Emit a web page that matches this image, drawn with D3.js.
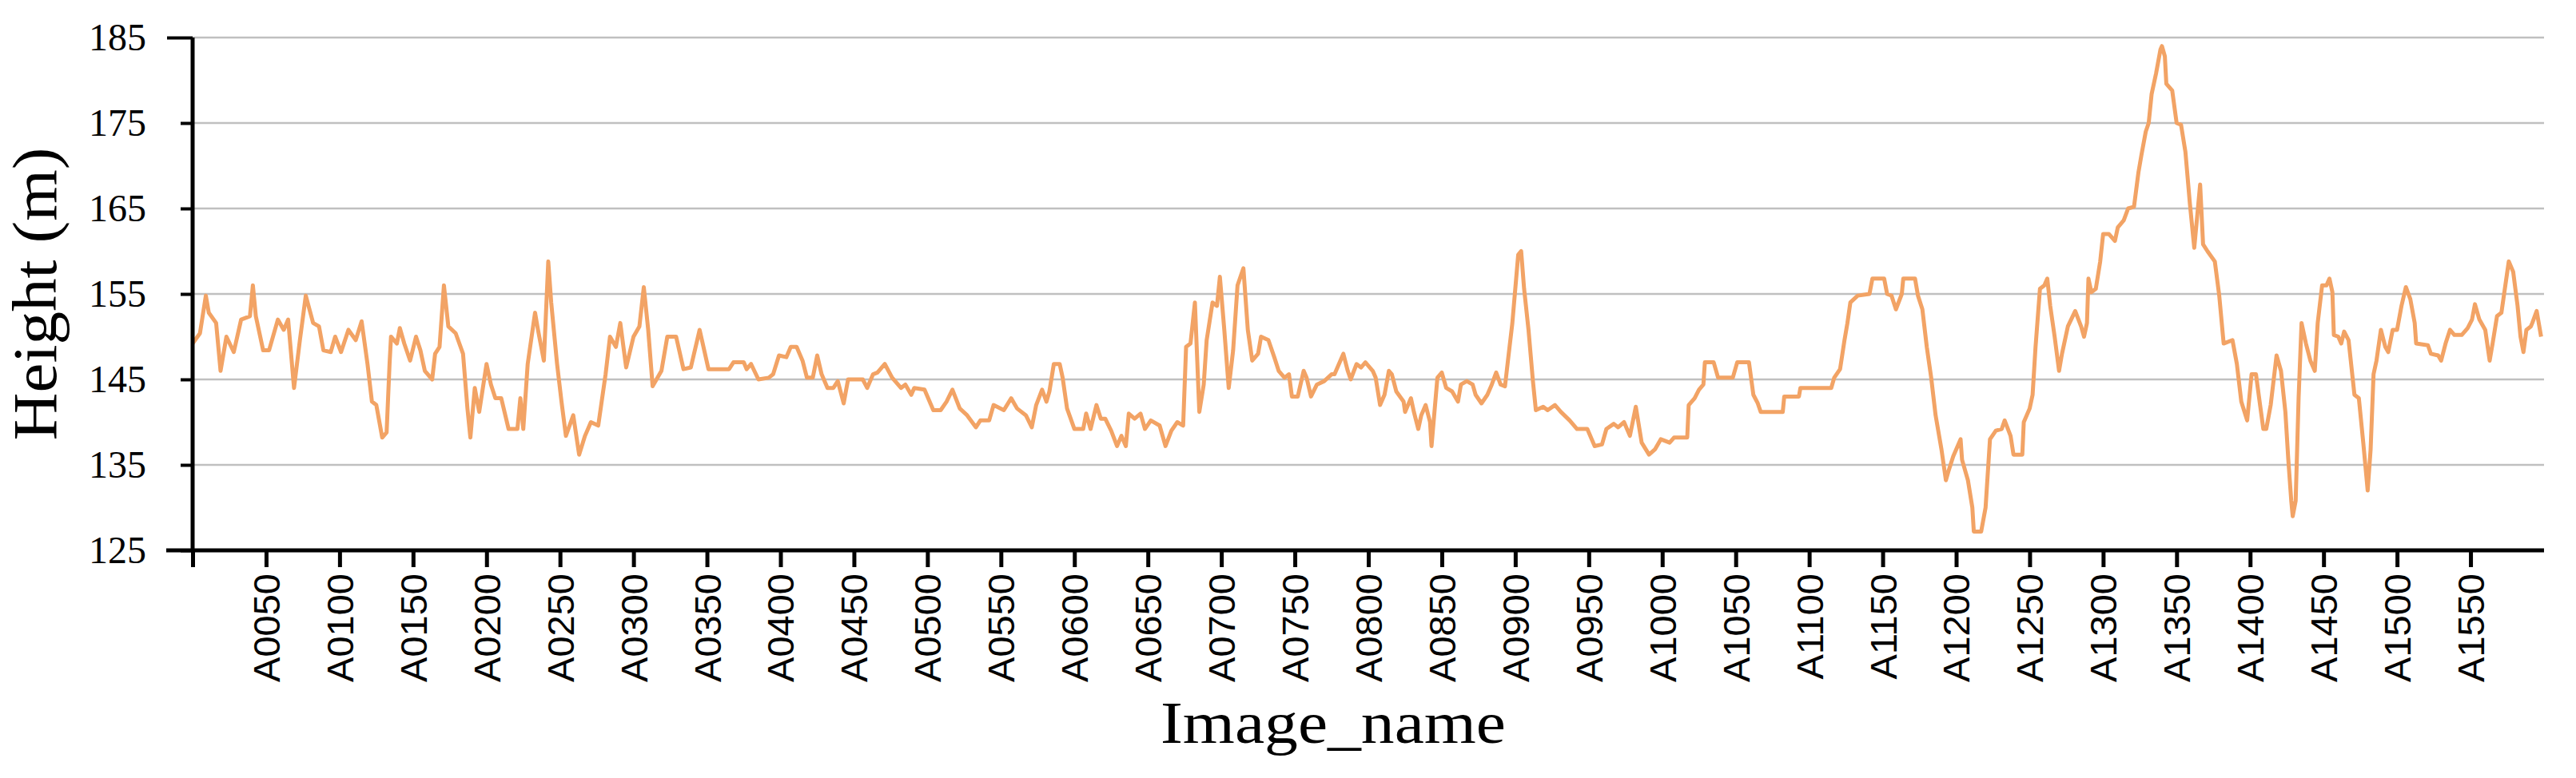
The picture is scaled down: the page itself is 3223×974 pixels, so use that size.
<!DOCTYPE html>
<meta charset="utf-8">
<title>Height (m) by Image_name</title>
<style>

body {
  margin: 0;
  background: #fff;
  overflow: hidden;
}

svg {
  display: block;
}

.y-axis text {
  font-family: 'Liberation Serif', 'Times New Roman', serif;
  font-size: 48px;
  fill: #000;
}

.x-axis text {
  font-family: 'Liberation Sans', Arial, sans-serif;
  font-size: 47px;
  fill: #000;
}

.title {
  font-family: 'Liberation Serif', 'Times New Roman', serif;
  fill: #000;
}

.grid line {
  stroke: #c0c0c0;
  stroke-width: 2.5px;
}

</style>
<svg width="3223" height="974"></svg>
<script src="https://d3js.org/d3.v7.min.js"></script>
<script>

var imageIndex = [
  0, 5, 9, 11, 16, 19, 23, 28, 33, 39, 41, 43, 48, 52, 58, 62, 65, 69, 73, 77,
  82, 86, 89, 94, 97, 101, 106, 111, 115, 119, 122, 125, 129, 132, 134, 135, 139, 141, 144, 148,
  152, 155, 158, 163, 165, 168, 171, 174, 179, 184, 187, 189, 192, 195,
  200, 203, 206, 210, 215, 221, 223, 225, 228, 233, 235, 239, 242, 244, 248, 251,
  254, 259, 263, 267, 271, 276, 281, 284, 288, 291, 295, 300, 304, 307, 310, 313,
  319, 323, 329, 334, 339, 345, 351, 365, 368, 375, 377, 380, 385, 392, 395, 399,
  404, 407, 411, 415, 418, 422, 425, 428, 432, 436, 439, 443, 446, 451, 456, 459,
  463, 466, 471, 476, 482, 485, 489, 491, 498, 504, 509, 513, 517, 522, 527, 533,
  536, 542, 545, 552, 557, 561, 567, 571, 574, 578, 581, 583, 586, 590, 592, 595, 600,
  603, 606, 608, 611, 615, 618, 621, 625, 629, 632, 635, 637, 641, 645, 648, 652,
  658, 662, 666, 670, 674, 676, 679, 682, 685, 688, 690, 694, 697, 699, 702, 705,
  708, 711, 715, 718, 721, 725, 727, 732, 736, 739, 743, 746, 748, 752, 756, 758,
  761, 765, 770, 775, 777, 780, 783, 786, 788, 792, 795, 798, 801,
  803, 805, 808, 811, 814, 816, 819, 824, 825, 829, 831, 834, 836, 839, 842, 843,
  847, 850, 853, 857, 861, 863, 867, 871, 873, 877, 881, 884, 887, 890, 893, 895,
  898, 900, 902, 904, 906, 909, 912, 914, 919, 922, 927, 931, 937, 942, 949, 954,
  959, 962, 967, 970, 974, 978, 982, 986, 991, 995, 999,
  1005, 1008, 1017, 1018, 1022, 1025, 1028, 1029, 1035, 1038, 1048, 1051, 1059, 1062, 1065, 1067,
  1082, 1083, 1093, 1094, 1115, 1117, 1121, 1124, 1126, 1128, 1133, 1141, 1143, 1151, 1153, 1156,
  1159, 1163, 1164, 1172, 1174, 1177, 1180, 1183, 1186, 1190, 1193, 1195, 1198, 1203,
  1204, 1208, 1211, 1212, 1217, 1220, 1223, 1227, 1231, 1233, 1237, 1239, 1245, 1246, 1250, 1252,
  1254, 1257, 1260, 1262, 1264, 1267, 1270, 1272, 1276, 1281, 1285, 1287, 1289, 1290, 1292, 1295,
  1298, 1300, 1304, 1308, 1310, 1314, 1317, 1321, 1324, 1326, 1329, 1331, 1333, 1336, 1339, 1340,
  1342, 1343, 1347, 1350, 1353, 1356, 1359, 1362, 1366, 1368, 1371, 1376, 1379, 1382, 1388, 1391,
  1394, 1398, 1401, 1404,
  1406, 1409, 1411, 1414, 1418, 1421, 1424, 1426, 1428, 1429, 1431, 1433, 1435, 1438, 1441, 1444,
  1446, 1449, 1452, 1454, 1456, 1457, 1460, 1462, 1464, 1467, 1471, 1474, 1477, 1480, 1482, 1484,
  1486, 1489, 1492, 1494, 1497, 1500, 1503, 1506, 1509, 1512, 1513, 1521, 1523, 1528, 1530, 1533,
  1536, 1539, 1544, 1548, 1551, 1553, 1556, 1560, 1563, 1565, 1568, 1571, 1573, 1576, 1579, 1582,
  1584, 1586, 1588, 1591, 1592, 1595, 1598
];

var heightM = [
  149.2, 150.4, 154.8, 152.8, 151.6, 146, 150, 148.2, 152, 152.4, 156, 152.4, 148.4, 148.4, 152, 150.8, 152, 144, 149.6, 154.8,
  151.6, 151.2, 148.4, 148.2, 150, 148.2, 150.8, 149.6, 151.8, 146.8, 142.4, 142, 138.2, 138.8, 146.8, 150, 149.2, 151, 149.2, 147.2,
  150, 148.4, 146, 145, 148, 148.8, 156, 151.2, 150.4, 148, 141.6, 138.2, 144, 141.2,
  146.8, 144.4, 142.8, 142.8, 139.2, 139.2, 142.8, 139.2, 146.8, 152.8, 150.8, 147.2, 158.8, 154, 146.8, 142.4,
  138.4, 140.8, 136.2, 138.4, 140, 139.6, 145.6, 150, 148.8, 151.6, 146.4, 150, 151.2, 155.8, 150.8, 144.2,
  146, 150, 150, 146.2, 146.4, 150.8, 146.2, 146.2, 147, 147, 146.2, 146.8, 145, 145.2, 145.6, 147.8,
  147.6, 148.8, 148.8, 147.2, 145.2, 145.2, 147.8, 145.6, 144, 144, 144.8, 142.2, 145, 145, 145, 144,
  145.6, 145.8, 146.8, 145.2, 144, 144.4, 143.2, 144, 143.8, 141.4, 141.4, 142.4, 143.8, 141.6, 140.8, 139.4,
  140.2, 140.2, 142, 141.4, 142.8, 141.6, 140.8, 139.4, 142, 143.8, 142.4, 143.6, 146.8, 146.8, 145.2, 141.6, 139.2,
  139.2, 139.2, 141, 139.2, 142, 140.4, 140.4, 139, 137.2, 138.4, 137.2, 141, 140.4, 141, 139.2, 140.2,
  139.6, 137.2, 139, 140, 139.6, 148.8, 149.2, 154, 141.2, 144.4, 149.6, 154, 153.6, 157, 150.8, 144,
  148.4, 156, 158, 150.8, 147.2, 148, 150, 149.6, 147.6, 146, 145.2, 145.6, 143, 143, 146, 145.2,
  143, 144.4, 144.8, 145.6, 145.6, 146.8, 148, 146, 145, 146.8, 146.4, 147, 146.4,
  146, 145.2, 142, 143.2, 146, 145.6, 143.6, 142.4, 141.2, 142.8, 141.2, 139.2, 140.8, 142, 140, 137.2,
  145.2, 145.8, 144, 143.6, 142.4, 144.4, 144.8, 144.4, 143.2, 142.2, 143.2, 144.4, 145.8, 144.4, 144.2, 147.2,
  151.6, 155.6, 159.6, 160, 155.6, 150.8, 144.8, 141.4, 141.8, 141.4, 142, 141.2, 140.2, 139.2, 139.2, 137.2,
  137.4, 139.2, 139.8, 139.4, 140, 138.4, 141.8, 137.6, 136.2, 136.8, 138,
  137.6, 138.2, 138.2, 142, 142.8, 143.8, 144.4, 147, 147, 145.2, 145.2, 147, 147, 143.2, 142.2, 141.2,
  141.2, 143, 143, 144, 144, 145.2, 146.2, 149.6, 151.6, 154, 154.8, 155, 156.8, 156.8, 155, 154.8,
  153.2, 155, 156.8, 156.8, 154.8, 153.2, 148.8, 145.2, 140.8, 136.8, 133.2, 134.4, 136, 138,
  135.6, 133.2, 130, 127.2, 127.2, 130, 138, 139, 139.2, 140.2, 138.4, 136.2, 136.2, 140, 141.6, 143.2,
  148.8, 155.6, 156, 156.8, 153.6, 150, 146, 148, 151.2, 153, 151.2, 150, 151.6, 156.8, 155.2, 155.6,
  158.8, 162, 162, 161.2, 162.8, 163.6, 165, 165.2, 169.2, 171.2, 174, 175, 178.4, 180.8, 183.6, 184,
  182.8, 179.6, 178.8, 175, 174.8, 171.6, 165.6, 160.4, 167.8, 160.8, 160, 158.8, 154.8, 149.2, 149.6, 146.8,
  142.4, 140.2, 145.6, 145.6,
  143, 139.2, 139.2, 142, 147.8, 146, 141.2, 135.6, 130.8, 129, 130.8, 142.8, 151.6, 149.2, 147.2, 146,
  151.6, 156, 156, 156.8, 155.2, 150.2, 150, 149.2, 150.6, 149.6, 143.2, 142.8, 137.6, 132, 136.8, 145.6,
  147.2, 150.8, 148.8, 148.2, 150.8, 150.8, 153.6, 155.8, 154.4, 151.6, 149.2, 149, 148, 147.8, 147.2, 149.2,
  150.8, 150.2, 150.2, 151, 152, 153.8, 152, 150.8, 147.2, 149.2, 152.4, 152.8, 155.2, 158.8, 157.6, 153.6,
  150, 148.2, 150.8, 151.2, 151.6, 153, 150
];

var yTicks = [125, 135, 145, 155, 165, 175, 185];
var xTicks = d3.range(0, 1600, 50);   // a tick every 50 images, labelled from A0050
var imageCount = 1600;

var svg = d3.select("svg"),
    margin = {top: 47, right: 40, bottom: 285, left: 241},
    width = +svg.attr("width") - margin.left - margin.right,
    height = +svg.attr("height") - margin.top - margin.bottom;

var g = svg.append("g").attr("transform", "translate(" + margin.left + "," + margin.top + ")");

var x = d3.scaleLinear()
    .domain([0, imageCount])
    .range([0, width]);

var y = d3.scaleLinear()
    .domain([125, 185])
    .range([height, 0]);

var data = imageIndex.map(function(d, i) { return {i: d, h: heightM[i]}; });

// horizontal gridlines
g.append("g")
    .attr("class", "grid")
  .selectAll("line")
  .data(yTicks.slice(1))
  .enter().append("line")
    .attr("x1", 0)
    .attr("x2", width)
    .attr("y1", function(d) { return y(d); })
    .attr("y2", function(d) { return y(d); });

// the series
var line = d3.line()
    .x(function(d) { return x(d.i); })
    .y(function(d) { return y(d.h); });

g.append("path")
    .datum(data)
    .attr("fill", "none")
    .attr("stroke", "#f2a365")
    .attr("stroke-width", 5)
    .attr("stroke-linejoin", "round")
    .attr("d", line);

// y axis
var yAxis = g.append("g")
    .attr("class", "y-axis")
    .call(d3.axisLeft(y).tickValues(yTicks).tickSize(15).tickPadding(43).tickFormat(d3.format("d")));

yAxis.select(".domain").attr("stroke-width", 5).attr("d", "M0," + height + "V0");
yAxis.selectAll(".tick line").attr("stroke-width", 4);
yAxis.selectAll(".tick line").filter(function(d) { return d === 185; }).attr("x2", -32);

// x axis
var xAxis = g.append("g")
    .attr("class", "x-axis")
    .attr("transform", "translate(0," + height + ")")
    .call(d3.axisBottom(x).tickValues(xTicks).tickSize(21)
      .tickFormat(function(d) { return d ? "A" + d3.format("04d")(d) : ""; }));

xAxis.select(".domain").attr("stroke-width", 5).attr("d", "M-33,0H" + width);
xAxis.selectAll(".tick line").attr("stroke-width", 5);
xAxis.selectAll(".tick text")
    .attr("transform", "rotate(-90)")
    .attr("text-anchor", "end")
    .attr("x", -29)
    .attr("y", 0)
    .attr("dy", "0.35em");

// axis titles
svg.append("text")
    .attr("class", "title")
    .attr("transform", "translate(70,368) rotate(-90)")
    .attr("text-anchor", "middle")
    .style("font-size", "78px")
    .attr("textLength", 367)
    .attr("lengthAdjust", "spacingAndGlyphs")
    .text("Height (m)");

svg.append("text")
    .attr("class", "title")
    .attr("x", 1668)
    .attr("y", 930)
    .attr("text-anchor", "middle")
    .style("font-size", "75px")
    .attr("textLength", 432)
    .attr("lengthAdjust", "spacingAndGlyphs")
    .text("Image_name");

</script>
